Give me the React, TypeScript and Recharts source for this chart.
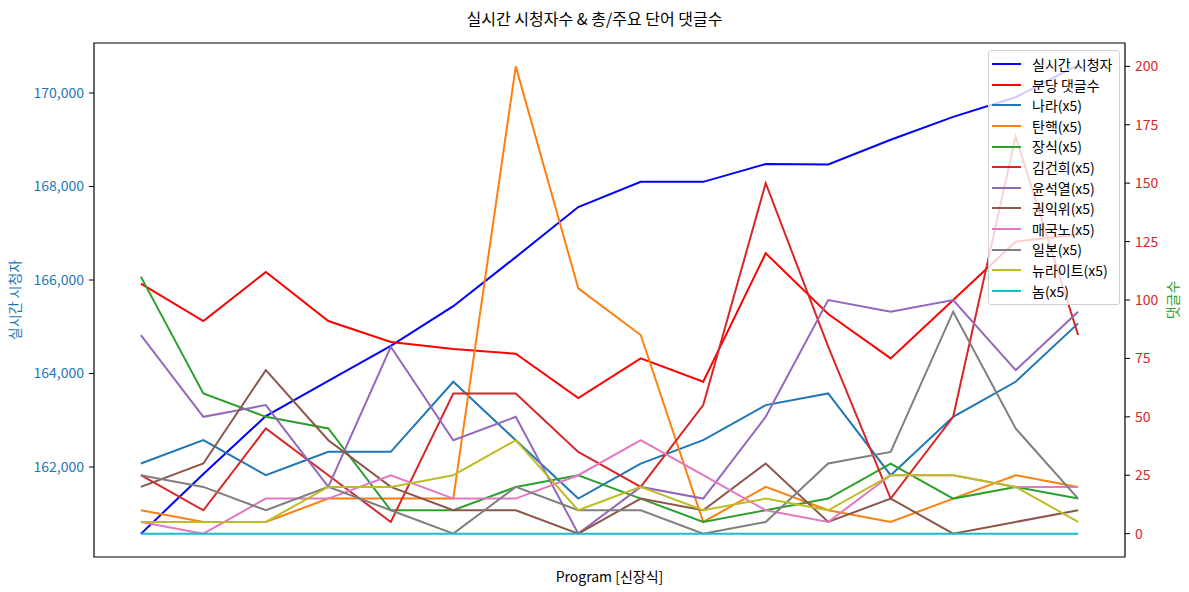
import { Legend, Line, LineChart, ReferenceArea, XAxis, YAxis } from "recharts";

const FONT = '"Noto Sans CJK KR", "Noto Sans", sans-serif';

// one slot per sampled minute block (no tick labels on the x axis)
const slots = [0, 1, 2, 3, 4, 5, 6, 7, 8, 9, 10, 11, 12, 13, 14, 15];

const viewers = [
  160570, 161850, 163090, 163840, 164590, 165440, 166490, 167560, 168100,
  168100, 168480, 168470, 169000, 169490, 169910, 170600,
];
const perMinute = [107, 91, 112, 91, 82, 79, 77, 58, 75, 65, 120, 94, 75, 100, 125, 128];

const nara = [30, 40, 25, 35, 35, 65, 40, 15, 30, 40, 55, 60, 25, 50, 65, 90];
const tanhaek = [10, 5, 5, 15, 15, 15, 200, 105, 85, 5, 20, 10, 5, 15, 25, 20];
const jangsik = [110, 60, 50, 45, 10, 10, 20, 25, 15, 5, 10, 15, 30, 15, 20, 15];
const kimgunhee = [25, 10, 45, 25, 5, 60, 60, 35, 20, 55, 150, 80, 15, 50, 170, 85];
const yoon = [85, 50, 55, 20, 80, 40, 50, 0, 20, 15, 50, 100, 95, 100, 70, 95];
const kwon = [20, 30, 70, 40, 20, 10, 10, 0, 15, 10, 30, 5, 15, 0, 5, 10];
const maegukno = [5, 0, 15, 15, 25, 15, 15, 25, 40, 25, 10, 5, 25, 25, 20, 20];
const ilbon = [25, 20, 10, 20, 10, 0, 20, 10, 10, 0, 5, 30, 35, 95, 45, 15];
const newright = [5, 5, 5, 20, 20, 25, 40, 10, 20, 10, 15, 10, 25, 25, 20, 5];
const nom = [0, 0, 0, 0, 0, 0, 0, 0, 0, 0, 0, 0, 0, 0, 0, 0];

const leftTicks = [162000, 164000, 166000, 168000, 170000];
const rightTicks = [0, 25, 50, 75, 100, 125, 150, 175, 200];

const wordSeries = [
  { key: "nara", name: "나라(x5)", values: nara, color: "#1f77b4" },
  { key: "tanhaek", name: "탄핵(x5)", values: tanhaek, color: "#ff7f0e" },
  { key: "jangsik", name: "장식(x5)", values: jangsik, color: "#2ca02c" },
  { key: "kimgunhee", name: "김건희(x5)", values: kimgunhee, color: "#d62728" },
  { key: "yoon", name: "윤석열(x5)", values: yoon, color: "#9467bd" },
  { key: "kwon", name: "권익위(x5)", values: kwon, color: "#8c564b" },
  { key: "maegukno", name: "매국노(x5)", values: maegukno, color: "#e377c2" },
  { key: "ilbon", name: "일본(x5)", values: ilbon, color: "#7f7f7f" },
  { key: "newright", name: "뉴라이트(x5)", values: newright, color: "#bcbd22" },
  { key: "nom", name: "놈(x5)", values: nom, color: "#17becf" },
];

const rows = slots.map((s, i) => {
  const row: Record<string, number> = { slot: s, viewers: viewers[i], perMinute: perMinute[i] };
  wordSeries.forEach((w) => {
    row[w.key] = w.values[i];
  });
  return row;
});

const legendItems = [
  { name: "실시간 시청자", color: "#0000ff" },
  { name: "분당 댓글수", color: "#ff0000" },
  ...wordSeries.map((w) => ({ name: w.name, color: w.color })),
];

const ROW_H = 20.6;

function LegendBox() {
  return (
    <div
      style={{
        position: "relative",
        background: "rgba(255,255,255,0.8)",
        border: "1px solid #d0d0d0",
        borderRadius: 3,
        fontFamily: FONT,
        fontSize: 14,
        color: "#000",
        boxSizing: "border-box",
        width: 132,
        height: legendItems.length * ROW_H + 8,
      }}
    >
      {legendItems.map((it, i) => (
        <div
          key={it.name}
          style={{
            position: "absolute",
            left: 3,
            top: 3 + i * ROW_H,
            height: ROW_H,
            lineHeight: `${ROW_H}px`,
            whiteSpace: "nowrap",
          }}
        >
          <span
            style={{
              position: "absolute",
              left: 0,
              top: ROW_H / 2 - 1,
              width: 29,
              height: 2,
              background: it.color,
            }}
          />
          <span style={{ position: "absolute", left: 40, top: 0 }}>{it.name}</span>
        </div>
      ))}
    </div>
  );
}

const axisTitle = (x: number, text: string, color: string) => (props: any) => {
  const vb = props.viewBox || {};
  const cy = (vb.y ?? 43) + (vb.height ?? 514) / 2;
  return (
    <text
      x={x}
      y={cy}
      transform={`rotate(-90 ${x} ${cy})`}
      textAnchor="middle"
      dominantBaseline="central"
      fill={color}
      fontSize={14}
      fontFamily={FONT}
    >
      {text}
    </text>
  );
};

export default function App() {
  return (
    <div style={{ position: "fixed", left: 0, top: 0, width: 1189, height: 592, background: "#fff" }}>
      <div
        style={{
          position: "absolute",
          top: 8,
          left: 0,
          width: 1189,
          textAlign: "center",
          fontFamily: FONT,
          fontSize: 16,
          lineHeight: "20px",
          color: "#000",
        }}
      >
        실시간 시청자수 &amp; 총/주요 단어 댓글수
      </div>
      <LineChart width={1189} height={592} data={rows} margin={{ top: 43, right: 0, bottom: 0, left: 0 }}>
        <XAxis
          dataKey="slot"
          type="number"
          domain={[-0.75, 15.75]}
          tick={false}
          tickLine={false}
          axisLine={false}
          height={35}
          label={{
            content: () => (
              <text x={609.5} y={576} textAnchor="middle" dominantBaseline="central" fontSize={14} fontFamily={FONT} fill="#000">
                Program [신장식]
              </text>
            ),
          }}
        />
        <YAxis
          yAxisId="left"
          orientation="left"
          width={94}
          domain={[160075, 171070]}
          ticks={leftTicks}
          allowDataOverflow
          axisLine={false}
          tickLine={{ stroke: "#000" }}
          tickSize={5}
          tickMargin={5}
          tick={{ fill: "#1f77b4", fontSize: 14, fontFamily: FONT }}
          tickFormatter={(v: number) => v.toLocaleString("en-US")}
          label={{ content: axisTitle(14, "실시간 시청자", "#1f77b4") }}
        />
        <YAxis
          yAxisId="right"
          orientation="right"
          width={64}
          domain={[-10, 210]}
          ticks={rightTicks}
          allowDataOverflow
          axisLine={false}
          tickLine={{ stroke: "#000" }}
          tickSize={5}
          tickMargin={5}
          tick={{ fill: "#d62728", fontSize: 14, fontFamily: FONT, textAnchor: "start" }}
          label={{ content: axisTitle(1172, "댓글수", "#2ca02c") }}
        />
        <Line
          yAxisId="left"
          type="linear"
          dataKey="viewers"
          name="실시간 시청자"
          stroke="#0000ff"
          strokeWidth={2}
          dot={false}
          isAnimationActive={false}
        />
        <Line
          yAxisId="right"
          type="linear"
          dataKey="perMinute"
          name="분당 댓글수"
          stroke="#ff0000"
          strokeWidth={2}
          dot={false}
          isAnimationActive={false}
        />
        {wordSeries.map((w) => (
          <Line
            key={w.key}
            yAxisId="right"
            type="linear"
            dataKey={w.key}
            name={w.name}
            stroke={w.color}
            strokeWidth={2}
            dot={false}
            isAnimationActive={false}
          />
        ))}
        <ReferenceArea
          yAxisId="left"
          x1={-0.75}
          x2={15.75}
          y1={160075}
          y2={171070}
          fill="none"
          stroke="#000"
          strokeWidth={1.2}
          fillOpacity={0}
          ifOverflow="visible"
        />
        <Legend
          align="center"
          verticalAlign="middle"
          layout="vertical"
          content={() => <LegendBox />}
          wrapperStyle={{ position: "absolute", left: 988, top: 50, width: 132, height: "auto" }}
        />
      </LineChart>
    </div>
  );
}
